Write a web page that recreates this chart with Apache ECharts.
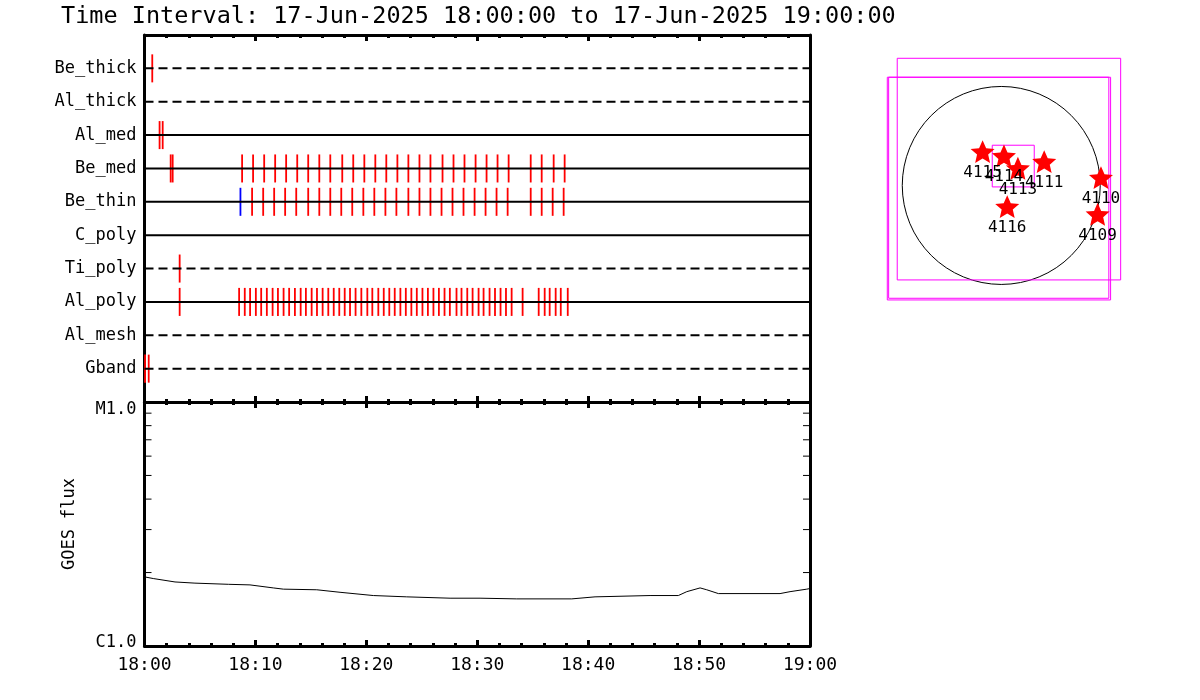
<!DOCTYPE html>
<html>
<head>
<meta charset="utf-8">
<script src="https://cdn.jsdelivr.net/npm/echarts@6/dist/echarts.min.js"></script>
<style>
  html, body { margin: 0; padding: 0; background: #ffffff; }
  #chart { width: 1200px; height: 700px; }
</style>
</head>
<body>
<div id="chart"></div>
<script>
// ---------------- DATA ----------------
const titleText = 'Time Interval: 17-Jun-2025 18:00:00 to 17-Jun-2025 19:00:00';
const detectorNames = ['Be_thick', 'Al_thick', 'Al_med', 'Be_med', 'Be_thin', 'C_poly', 'Ti_poly', 'Al_poly', 'Al_mesh', 'Gband'];
const dashedDetectors = ['Be_thick', 'Al_thick', 'Ti_poly', 'Al_mesh', 'Gband'];

// event times, minutes after 18:00
const beThickEvents = [0.70];
const alThickEvents = [];
const alMedEvents = [1.36, 1.64];
const beMedEvents = [2.36, 2.54, 8.80, 9.79, 10.79, 11.78, 12.77, 13.77, 14.76, 15.76, 16.75, 17.83, 18.82, 19.82,
  20.81, 21.80, 22.80, 23.79, 24.79, 25.78, 26.87, 27.86, 28.85, 29.85, 30.84, 31.83, 32.83, 34.82, 35.81, 36.89, 37.88];
const beThinEvents = [9.70, 10.70, 11.69, 12.68, 13.68, 14.76, 15.76, 16.75, 17.74, 18.73, 19.73, 20.72, 21.72, 22.71,
  23.79, 24.79, 25.78, 26.78, 27.77, 28.76, 29.76, 30.75, 31.74, 32.74, 34.82, 35.81, 36.80, 37.79];
const beThinBlueEvents = [8.65];
const cPolyEvents = [];
const tiPolyEvents = [3.17];
const alPolyEvents = [3.17, 8.53, 9.04, 9.52, 10.04, 10.52, 11.03, 11.55, 12.03, 12.54, 13.04, 13.56, 14.08, 14.55,
  15.07, 15.55, 16.06, 16.57, 17.06, 17.56, 18.05, 18.53, 19.03, 19.55, 20.09, 20.54, 21.08, 21.57, 22.07, 22.56,
  23.07, 23.56, 24.06, 24.55, 25.06, 25.55, 26.05, 26.54, 27.05, 27.53, 28.13, 28.58, 29.10, 29.58, 30.12, 30.57,
  31.11, 31.60, 32.10, 32.59, 33.10, 34.09, 35.54, 36.08, 36.53, 37.07, 37.53, 38.16];
const alMeshEvents = [];
const gbandEvents = [0.05, 0.38];

// GOES flux (W/m^2), minutes after 18:00
const goesTimes = [0, 0.79, 2.75, 4.55, 7.56, 9.51, 11.61, 12.52, 15.53, 17.63, 20.63, 23.64, 27.55, 30.25, 33.56,
  38.52, 40.62, 45.58, 48.13, 48.89, 50.09, 50.69, 51.74, 57.30, 58.20, 59.71, 60];
const goesFlux = [1.92e-6, 1.89e-6, 1.83e-6, 1.81e-6, 1.79e-6, 1.78e-6, 1.73e-6, 1.71e-6, 1.70e-6, 1.66e-6, 1.61e-6,
  1.59e-6, 1.57e-6, 1.57e-6, 1.56e-6, 1.56e-6, 1.59e-6, 1.61e-6, 1.61e-6, 1.67e-6, 1.73e-6, 1.70e-6, 1.64e-6,
  1.64e-6, 1.67e-6, 1.71e-6, 1.72e-6];
const goesMinorTicks = [2e-6, 3e-6, 4e-6, 5e-6, 6e-6, 7e-6, 8e-6, 9e-6];
const goesClassLabels = ['C1.0', 'M1.0'];

// Solar map (arcsec)
const solarRadius = 945;
const arNumbers = ['4115', '4114', '4113', '4111', '4110', '4109', '4116'];
const arX = [-178, 26, 159, 410, 952, 920, 57];
const arY = [323, 282, 164, 227, 75, -275, -202];
const fovBoxes = [
  [-993, 1214, 1140, -902],
  [-1088, 1033, 1044, -1093],
  [-1075, 1033, 1027, -1077],
  [-86, 384, 315, -14]
];

// ---------------- BUILD ----------------
const FONT = 'DejaVu Sans Mono';
const eventLists = [beThickEvents, alThickEvents, alMedEvents, beMedEvents, beThinEvents, cPolyEvents,
  tiPolyEvents, alPolyEvents, alMeshEvents, gbandEvents];
const tickData = [];
eventLists.forEach((list, i) => list.forEach(t => tickData.push([t, i + 1, 0])));
beThinBlueEvents.forEach(t => tickData.push([t, detectorNames.indexOf('Be_thin') + 1, 1]));
const rowData = detectorNames.map((n, i) => [0, i + 1, 60]);

function timeLabel(v) {
  const h = 18 + Math.floor(v / 60);
  const m = Math.round(v % 60);
  return h + ':' + String(m).padStart(2, '0');
}

const GL = 144.5, GW = 665.5;
const axisLineStyle = { color: '#000', width: 3 };
function timeAxis(grid, pos, showLabel) {
  return {
    type: 'value', gridIndex: grid, position: pos, min: 0, max: 60, interval: 10,
    axisLine: { show: true, onZero: false, lineStyle: axisLineStyle },
    axisTick: { show: true, inside: true, length: 6, lineStyle: { color: '#000', width: 3 } },
    minorTick: { show: true, splitNumber: 5, length: 3, lineStyle: { color: '#000', width: 3 } },
    splitLine: { show: false },
    axisLabel: showLabel ? { show: true, margin: 10, color: '#000', fontFamily: FONT, fontSize: 18, formatter: timeLabel } : { show: false }
  };
}

const option = {
  animation: false,
  backgroundColor: '#fff',
  title: {
    text: titleText, left: 61, top: 5, padding: 0,
    textStyle: { fontFamily: FONT, fontSize: 23.5, fontWeight: 'normal', color: '#000' }
  },
  grid: [
    { left: GL, top: 35, width: GW, height: 367 },
    { left: GL, top: 402, width: GW, height: 244 },
    { left: 854.6, top: 38.8, width: 293.3, height: 293.3 }
  ],
  xAxis: [
    timeAxis(0, 'bottom', false),
    timeAxis(0, 'top', false),
    timeAxis(1, 'bottom', true),
    timeAxis(1, 'top', false),
    { type: 'value', gridIndex: 2, min: -1400, max: 1400, show: false }
  ],
  yAxis: [
    {
      type: 'value', gridIndex: 0, position: 'left', min: 0, max: 11, interval: 1, inverse: true,
      axisLine: { show: true, onZero: false, lineStyle: axisLineStyle },
      axisTick: { show: false }, splitLine: { show: false },
      axisLabel: { show: true, margin: 8, color: '#000', fontFamily: FONT, fontSize: 17,
        formatter: v => detectorNames[v - 1] || '' }
    },
    {
      type: 'value', gridIndex: 0, position: 'right', min: 0, max: 11, interval: 1, inverse: true,
      axisLine: { show: true, onZero: false, lineStyle: axisLineStyle },
      axisTick: { show: false }, splitLine: { show: false }, axisLabel: { show: false }
    },
    {
      type: 'log', gridIndex: 1, position: 'left', min: 1e-6, max: 1e-5, logBase: 10,
      name: 'GOES flux', nameLocation: 'middle', nameRotate: 90, nameGap: 66,
      nameTextStyle: { fontFamily: FONT, fontSize: 17, color: '#000' },
      axisLine: { show: true, onZero: false, lineStyle: axisLineStyle },
      axisTick: { show: false }, splitLine: { show: false }, minorTick: { show: false },
      axisLabel: {
        show: true, margin: 8, color: '#000', fontFamily: FONT, fontSize: 17,
        formatter: v => (v < 3e-6 ? '{lo|' + goesClassLabels[0] + '}' : '{hi|' + goesClassLabels[1] + '}'),
        rich: {
          lo: { fontFamily: FONT, fontSize: 17, color: '#000', padding: [0, 0, 7, 0] },
          hi: { fontFamily: FONT, fontSize: 17, color: '#000', padding: [16, 0, 0, 0] }
        }
      }
    },
    {
      type: 'log', gridIndex: 1, position: 'right', min: 1e-6, max: 1e-5, logBase: 10,
      axisLine: { show: true, onZero: false, lineStyle: axisLineStyle },
      axisTick: { show: false }, splitLine: { show: false }, minorTick: { show: false }, axisLabel: { show: false }
    },
    { type: 'value', gridIndex: 2, min: -1400, max: 1400, show: false }
  ],
  series: [
    // event ticks
    {
      type: 'custom', xAxisIndex: 0, yAxisIndex: 0, z: 2, clip: false,
      data: tickData,
      renderItem: (params, api) => {
        const t = api.value(0), r = api.value(1);
        const p1 = api.coord([t, r - 0.42]), p2 = api.coord([t, r + 0.42]);
        return {
          type: 'line', shape: { x1: p1[0], y1: p1[1], x2: p2[0], y2: p2[1] },
          style: { stroke: api.value(2) === 1 ? '#0000ff' : '#ff0000', lineWidth: 1.8 }
        };
      }
    },
    // detector rows
    {
      type: 'custom', xAxisIndex: 0, yAxisIndex: 0, z: 3, clip: false,
      data: rowData,
      renderItem: (params, api) => {
        const r = api.value(1);
        const p1 = api.coord([api.value(0), r]), p2 = api.coord([api.value(2), r]);
        const dashed = dashedDetectors.indexOf(detectorNames[params.dataIndex]) >= 0;
        return {
          type: 'line', shape: { x1: p1[0], y1: p1[1], x2: p2[0], y2: p2[1] },
          style: { stroke: '#000', lineWidth: 2, lineDash: dashed ? [9, 5] : null }
        };
      }
    },
    // GOES flux
    {
      type: 'line', xAxisIndex: 2, yAxisIndex: 2, showSymbol: false, symbol: 'none',
      lineStyle: { color: '#000', width: 1 },
      data: goesTimes.map((t, i) => [t, goesFlux[i]])
    },
    // GOES minor ticks (left/right)
    {
      type: 'custom', xAxisIndex: 2, yAxisIndex: 2, clip: false,
      data: goesMinorTicks.map(v => [0, v, 60]),
      renderItem: (params, api) => {
        const l = api.coord([api.value(0), api.value(1)]);
        const r = api.coord([api.value(2), api.value(1)]);
        return {
          type: 'group', children: [
            { type: 'line', shape: { x1: l[0], y1: l[1], x2: l[0] + 7, y2: l[1] }, style: { stroke: '#000', lineWidth: 1 } },
            { type: 'line', shape: { x1: r[0], y1: r[1], x2: r[0] - 7, y2: r[1] }, style: { stroke: '#000', lineWidth: 1 } }
          ]
        };
      }
    },
    // solar limb
    {
      type: 'custom', xAxisIndex: 4, yAxisIndex: 4, clip: false,
      data: [[0, 0, solarRadius]],
      renderItem: (params, api) => {
        const c = api.coord([api.value(0), api.value(1)]);
        const rr = api.size([api.value(2), 0])[0];
        return { type: 'circle', shape: { cx: c[0], cy: c[1], r: rr }, style: { stroke: '#000', fill: null, lineWidth: 1 } };
      }
    },
    // FOV boxes
    {
      type: 'custom', xAxisIndex: 4, yAxisIndex: 4, clip: false,
      data: fovBoxes,
      renderItem: (params, api) => {
        const a = api.coord([api.value(0), api.value(1)]);
        const b = api.coord([api.value(2), api.value(3)]);
        return {
          type: 'rect',
          shape: { x: Math.min(a[0], b[0]), y: Math.min(a[1], b[1]), width: Math.abs(b[0] - a[0]), height: Math.abs(b[1] - a[1]) },
          style: { stroke: '#ff00ff', fill: null, lineWidth: 1 }
        };
      }
    },
    // active regions
    {
      type: 'scatter', xAxisIndex: 4, yAxisIndex: 4, z: 5,
      symbol: 'path://M0,-10 L2.8,-3.6 L9.5,-3.1 L4.4,1.4 L5.9,8.1 L0,4.5 L-5.9,8.1 L-4.4,1.4 L-9.5,-3.1 L-2.8,-3.6 Z',
      symbolSize: 24, symbolKeepAspect: true,
      itemStyle: { color: '#ff0000', opacity: 1 },
      label: {
        show: true, position: 'bottom', distance: 2, color: '#000', fontFamily: FONT, fontSize: 16,
        formatter: p => arNumbers[p.dataIndex]
      },
      labelLayout: { hideOverlap: false },
      emphasis: { disabled: true },
      data: arX.map((x, i) => [x, arY[i]])
    }
  ]
};

const chart = echarts.init(document.getElementById('chart'), null, { renderer: 'canvas' });
chart.setOption(option);
</script>
</body>
</html>
